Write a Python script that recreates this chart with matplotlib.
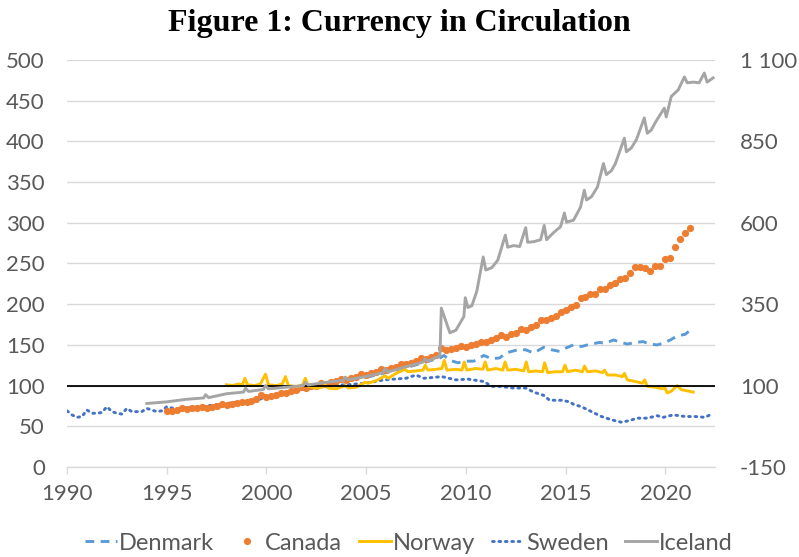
import matplotlib
matplotlib.use("Agg")
import matplotlib.pyplot as plt
from matplotlib.lines import Line2D

# ---------------- data ----------------
canada_start = 1995.0
canada = [69, 69, 70, 72,  71, 72, 72, 74,  73, 74, 75, 77,  76, 77, 78, 80,
          80, 81, 83, 88,  86, 87, 89, 91,  91, 93, 94, 98,  97, 99, 100, 103,
          102, 104, 106, 108,  107, 109, 111, 114,  113, 115, 117, 120,
          119, 121, 123, 127,  126, 128, 130, 134,  133, 135, 137, 146,
          144, 145, 146, 149,  148, 150, 151, 154,  154, 156, 158, 162,
          160, 163, 165, 169,  168, 172, 174, 180,  180, 183, 185, 191,
          193, 197, 199, 207,  209, 212, 213, 219,  219, 224, 226, 231,
          232, 238, 246, 246,  244, 241, 247, 247,  255, 257, 270, 280,
          287, 294]
canada_years = [canada_start + 0.25 * i for i in range(len(canada))]

denmark_years = [2005.0, 2006.0, 2007.0, 2008.0, 2008.7, 2008.9, 2009.2, 2009.6, 2010.0,
                 2010.4, 2010.9, 2011.3, 2011.7, 2012.0, 2012.6, 2013.0, 2013.4, 2013.9,
                 2014.3, 2014.7, 2015.0, 2015.4, 2015.8, 2016.1, 2016.7, 2017.0, 2017.4,
                 2017.8, 2018.1, 2018.5, 2018.9, 2019.2, 2019.6, 2019.9, 2020.25, 2020.6,
                 2021.0, 2021.2]
denmark = [110, 116, 122, 129, 134, 137, 131, 128, 130,
           130, 137, 133, 134, 140, 144, 144, 140, 147,
           144, 142, 146, 150, 148, 150, 153, 152, 156,
           153, 151, 153, 154, 151, 150, 152, 156, 161,
           163, 167]

norway_years = [1998.0, 1998.3, 1998.6, 1998.8, 1998.92, 1999.05, 1999.4, 1999.7, 1999.95,
                2000.1, 2000.5, 2000.8, 2000.95, 2001.1, 2001.5, 2001.8, 2001.95, 2002.1,
                2002.5, 2002.8, 2002.95, 2003.1, 2003.5, 2003.95, 2004.1, 2004.5, 2004.95,
                2005.1, 2005.5, 2005.95, 2006.1, 2006.5, 2006.95, 2007.1, 2007.5, 2007.85,
                2007.96, 2008.1, 2008.5, 2008.8, 2008.92, 2009.05, 2009.5, 2009.8, 2009.92,
                2010.05, 2010.5, 2010.85, 2010.97, 2011.1, 2011.5, 2011.85, 2011.97, 2012.1,
                2012.5, 2012.9, 2013.03, 2013.15, 2013.5, 2013.85, 2013.95, 2014.1, 2014.5,
                2014.85, 2014.97, 2015.1, 2015.5, 2015.85, 2015.95, 2016.1, 2016.5, 2016.85,
                2016.95, 2017.1, 2017.5, 2017.85, 2017.95, 2018.1, 2018.5, 2018.85, 2018.97,
                2019.1, 2019.5, 2019.85, 2019.97, 2020.1, 2020.3, 2020.6, 2020.8, 2021.0,
                2021.2, 2021.4]
norway = [101, 100, 102, 101, 109, 101, 100, 102, 114,
          101, 100, 102, 111, 100, 99, 100, 109, 99,
          97, 98, 101, 97, 96, 100, 97, 98, 104,
          103, 106, 112, 109, 115, 120, 117, 118, 119,
          125, 119, 120, 121, 131, 119, 120, 119, 129,
          119, 121, 120, 129, 119, 121, 119, 129, 119,
          120, 118, 129, 117, 118, 117, 128, 116, 117,
          117, 125, 117, 119, 117, 124, 117, 118, 116,
          119, 113, 113, 111, 115, 107, 105, 103, 107,
          99, 98, 96, 98, 91, 93, 100, 95, 94,
          93, 92]

sweden_years = [1990.0, 1990.25, 1990.5, 1990.75, 1991.0, 1991.25, 1991.5, 1991.75, 1992.0,
                1992.25, 1992.5, 1992.75, 1993.0, 1993.25, 1993.5, 1993.75, 1994.0, 1994.25,
                1994.5, 1994.75, 1995.0, 1995.5, 1996.0, 1997.0, 1998.0, 1998.7, 1999.5,
                2000.0, 2001.0, 2002.0, 2003.0, 2004.0, 2005.0, 2005.9, 2007.0, 2007.5,
                2007.9, 2008.8, 2009.5, 2010.1, 2010.9, 2011.3, 2011.7, 2012.4, 2013.0,
                2013.4, 2013.9, 2014.2, 2014.8, 2015.2, 2015.4, 2015.8, 2016.3, 2016.8,
                2017.3, 2017.8, 2018.2, 2018.6, 2019.1, 2019.6, 2019.9, 2020.4, 2021.0,
                2021.5, 2022.0, 2022.4]
sweden = [69, 64, 61, 62, 70, 66, 66, 67, 74,
          68, 66, 65, 72, 68, 68, 68, 72, 70,
          68, 69, 74, 71, 73, 75, 78, 80, 82,
          86, 91, 96, 100, 101, 103, 107, 109, 113,
          109, 111, 107, 108, 105, 99, 99, 97, 97,
          92, 88, 82, 82, 80, 77, 74, 68, 62,
          58, 55, 57, 60, 60, 63, 61, 64, 62,
          62, 61, 66]

# Iceland on the right-hand axis
iceland_years = [1994.0, 1995.0, 1996.0, 1996.85, 1996.95, 1997.1, 1998.0, 1998.85, 1998.95,
                 1999.1, 1999.85, 1999.95, 2000.1, 2001.0, 2001.85, 2001.95, 2002.1, 2003.0,
                 2003.85, 2003.95, 2004.1, 2005.0, 2005.85, 2005.95, 2006.1, 2007.0, 2007.85,
                 2007.95, 2008.1, 2008.7, 2008.77, 2009.2, 2009.5, 2009.9, 2009.97, 2010.1,
                 2010.3, 2010.55, 2010.87, 2011.0, 2011.3, 2011.6, 2011.98, 2012.1, 2012.4,
                 2012.7, 2013.0, 2013.1, 2013.4, 2013.75, 2013.93, 2014.05, 2014.4, 2014.75,
                 2014.94, 2015.05, 2015.4, 2015.75, 2015.94, 2016.05, 2016.3, 2016.6, 2016.9,
                 2017.05, 2017.3, 2017.5, 2017.95, 2018.05, 2018.3, 2018.55, 2018.95, 2019.1,
                 2019.3, 2019.5, 2019.95, 2020.05, 2020.3, 2020.65, 2020.96, 2021.1, 2021.4,
                 2021.7, 2021.96, 2022.1, 2022.4]
iceland = [45, 50, 58, 62, 72, 63, 75, 80, 92,
           82, 88, 100, 90, 95, 100, 110, 102, 110,
           116, 126, 118, 128, 140, 152, 142, 158, 172,
           182, 175, 192, 338, 262, 270, 312, 370, 340,
           345, 390, 495, 455, 462, 485, 562, 525, 530,
           527, 585, 540, 542, 548, 592, 548, 570, 588,
           630, 602, 608, 648, 700, 670, 680, 710, 782,
           748, 760, 782, 860, 818, 830, 855, 922, 875,
           885, 908, 952, 925, 988, 1008, 1048, 1030, 1032,
           1030, 1060, 1032, 1045]

x_ticks = [1990, 1995, 2000, 2005, 2010, 2015, 2020]
left_ticks = [0, 50, 100, 150, 200, 250, 300, 350, 400, 450, 500]
right_ticks = [-150, 100, 350, 600, 850, 1100]
right_labels = ["-150", "100", "350", "600", "850", "1 100"]
title = "Figure 1: Currency in Circulation"

# ---------------- styling ----------------
FONT = "Lato"
TXT = "#595959"
GRID = "#D9D9D9"
C_DK = "#5B9BD5"
C_CA = "#ED7D31"
C_NO = "#FFC000"
C_SE = "#4472C4"
C_IS = "#A5A5A5"

fig = plt.figure(figsize=(7.99, 5.57), dpi=100)
ax = fig.add_axes([0.0839, 0.1616, 0.8111, 0.7307])
ax2 = ax.twinx()

ax.set_xlim(1990, 2022.5)
ax.set_ylim(0, 500)
ax2.set_ylim(-150, 1100)

ax.set_yticks(left_ticks)
ax.set_xticks(x_ticks)
ax2.set_yticks(right_ticks)
ax2.set_yticklabels(right_labels)

for a in (ax, ax2):
    for s in a.spines.values():
        s.set_visible(False)
ax.spines["bottom"].set_visible(True)
ax.spines["bottom"].set_color(GRID)
ax.spines["bottom"].set_linewidth(1.0)

ax.grid(axis="y", color=GRID, linewidth=1.0)
ax.set_axisbelow(True)

ax.tick_params(axis="y", length=0, pad=16, labelsize=16, labelcolor=TXT)
ax.tick_params(axis="x", length=5, width=1.0, color=GRID, pad=7, labelsize=16, labelcolor=TXT)
ax2.tick_params(axis="y", length=0, pad=18, labelsize=16, labelcolor=TXT)
for lab in ax.get_xticklabels() + ax.get_yticklabels() + ax2.get_yticklabels():
    lab.set_fontfamily(FONT)

lw = 2.1
dk_style = (0, (3, 2.2))
se_style = (0, (0.6, 1.6))
ax.plot(denmark_years, denmark, color=C_DK, lw=lw, linestyle=dk_style, zorder=3)
ax.plot(sweden_years, sweden, color=C_SE, lw=lw, linestyle=se_style,
        dash_capstyle="round", zorder=3.5)
ax.plot(canada_years, canada, linestyle="none", marker="o", markersize=5.2,
        color=C_CA, markeredgewidth=0, zorder=4)
ax.plot(norway_years, norway, color=C_NO, lw=lw, zorder=5, solid_joinstyle="round")
ax.axhline(100, color="black", lw=1.3, zorder=7)
ax2.plot(iceland_years, iceland, color=C_IS, lw=lw, zorder=8, solid_joinstyle="round")

fig.text(0.5, 0.958, title, ha="center", va="center", fontsize=23,
         fontweight="bold", family="Liberation Serif", color="black")

handles = [
    Line2D([], [], color=C_DK, lw=lw, linestyle=dk_style),
    Line2D([], [], color=C_CA, marker="o", markersize=5.2, markeredgewidth=0, linestyle="none"),
    Line2D([], [], color=C_NO, lw=lw),
    Line2D([], [], color=C_SE, lw=lw, linestyle=se_style, dash_capstyle="round"),
    Line2D([], [], color=C_IS, lw=lw),
]
labels = ["Denmark", "Canada", "Norway", "Sweden", "Iceland"]
leg = fig.legend(handles, labels, loc="center", bbox_to_anchor=(0.512, 0.025), ncol=5,
                 frameon=False, handlelength=1.35, handletextpad=0.1, columnspacing=0.7,
                 prop={"family": FONT, "size": 17})
for t in leg.get_texts():
    t.set_color(TXT)

fig.savefig("out.png", dpi=100)
